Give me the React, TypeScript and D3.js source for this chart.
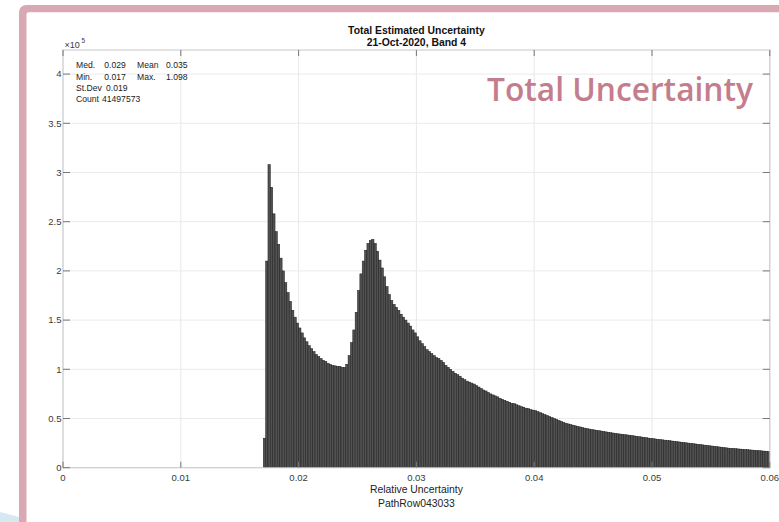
import React from "react";
import * as d3 from "d3";

// ---- data (counts in units of 1e5) ----
const binStart = 0.017;
const binWidth = 0.0002;
const counts: number[] = [
  0.30, 2.10, 3.08, 2.85, 2.58, 2.40, 2.27, 2.13, 2.00, 1.88,
  1.78, 1.69, 1.60, 1.53, 1.47, 1.42, 1.37, 1.32, 1.28, 1.24,
  1.21, 1.18, 1.15, 1.13, 1.11, 1.09, 1.08, 1.06, 1.05, 1.04,
  1.035, 1.03, 1.03, 1.02, 1.02, 1.05, 1.14, 1.27, 1.40, 1.58,
  1.80, 1.97, 2.10, 2.21, 2.28, 2.31, 2.32, 2.28, 2.20, 2.11,
  2.03, 1.94, 1.84, 1.76, 1.70, 1.66, 1.63, 1.60, 1.56, 1.53,
  1.50, 1.47, 1.44, 1.40, 1.37, 1.33, 1.29, 1.26, 1.23, 1.20,
  1.18, 1.16, 1.14, 1.12, 1.11, 1.09, 1.07, 1.04, 1.02, 1.00,
  0.98, 0.96, 0.945, 0.93, 0.91, 0.895, 0.88, 0.87, 0.86, 0.85,
  0.835, 0.82, 0.805, 0.79, 0.78, 0.765, 0.75, 0.74, 0.73, 0.72,
  0.705, 0.695, 0.685, 0.675, 0.665, 0.655, 0.65, 0.64, 0.63, 0.62,
  0.615, 0.605, 0.60, 0.59, 0.585, 0.58, 0.57, 0.56, 0.55, 0.54,
  0.53, 0.52, 0.51, 0.50, 0.49, 0.48, 0.47, 0.46, 0.452, 0.445,
  0.438, 0.432, 0.426, 0.42, 0.414, 0.408, 0.402, 0.397, 0.392, 0.388,
  0.384, 0.38, 0.376, 0.372, 0.368, 0.364, 0.36, 0.356, 0.352, 0.348,
  0.345, 0.342, 0.339, 0.336, 0.333, 0.33, 0.327, 0.323, 0.319, 0.315,
  0.312, 0.308, 0.305, 0.301, 0.298, 0.295, 0.292, 0.289, 0.286, 0.283,
  0.28, 0.277, 0.274, 0.271, 0.268, 0.265, 0.262, 0.259, 0.256, 0.253,
  0.25, 0.247, 0.244, 0.241, 0.238, 0.235, 0.232, 0.229, 0.226, 0.223,
  0.22, 0.217, 0.214, 0.211, 0.208, 0.205, 0.202, 0.199, 0.197, 0.195,
  0.193, 0.191, 0.189, 0.187, 0.185, 0.183, 0.181, 0.179, 0.177, 0.175,
  0.173, 0.171, 0.169, 0.167, 0.165,
];
const xTicks = [0, 0.01, 0.02, 0.03, 0.04, 0.05, 0.06];
const xTickLabels = ["0", "0.01", "0.02", "0.03", "0.04", "0.05", "0.06"];
const yTicks = [0, 0.5, 1, 1.5, 2, 2.5, 3, 3.5, 4];
const yTickLabels = ["0", "0.5", "1", "1.5", "2", "2.5", "3", "3.5", "4"];
const titleLines = ["Total Estimated Uncertainty", "21-Oct-2020, Band 4"];
const xLabelLines = ["Relative Uncertainty", "PathRow043033"];
const statsRows = [
  ["Med.", "0.029", "Mean", "0.035"],
  ["Min.", "0.017", "Max.", "1.098"],
  ["St.Dev", "0.019"],
  ["Count", "41497573"],
];
const watermark = "Total Uncertainty";

const W = 779;
const H = 522;
const L = 63, R = 769.8, T = 50, B = 467.7;
const font = "'Liberation Sans', Arial, Helvetica, sans-serif";

export default function App() {
  const x = d3.scaleLinear().domain([0, 0.06]).range([L, R]);
  const y = d3.scaleLinear().domain([0, 4.245]).range([B, T]);

  return (
    <svg width={W} height={H} style={{ position: "absolute", left: 0, top: 0, background: "#fff" }}>
      <rect x={0} y={0} width={W} height={H} fill="#fff" />
      {/* decorative frame */}
      <path d="M0,512 L19,517 L19,522 L0,522 Z" fill="#d6e9f1" />
      <rect x={19} y={5} width={800} height={560} rx={7} fill="#d9a9b3" />
      <rect x={26.5} y={12.3} width={800} height={560} rx={2} fill="#fff" />

      {/* grid */}
      {xTicks.map((t, i) => (
        <line key={"gx" + i} x1={x(t)} x2={x(t)} y1={T} y2={B} stroke="#e8e8e8" strokeWidth={1} />
      ))}
      {yTicks.map((t, i) => (
        <line key={"gy" + i} x1={L} x2={R} y1={y(t)} y2={y(t)} stroke="#ebebeb" strokeWidth={1} />
      ))}

      {/* histogram bars */}
      <g>
        {counts.map((c, i) => {
          const x0 = x(binStart + i * binWidth);
          const x1 = x(binStart + (i + 1) * binWidth);
          return (
            <rect
              key={i}
              x={x0}
              y={y(c)}
              width={x1 - x0}
              height={B - y(c)}
              fill="#515151"
              stroke="#1c1c1c"
              strokeWidth={0.5}
            />
          );
        })}
      </g>

      {/* axes box */}
      <rect x={L} y={T} width={R - L} height={B - T} fill="none" stroke="#c8c8c8" strokeWidth={1} />
      {xTicks.map((t, i) => (
        <g key={"tx" + i}>
          <line x1={x(t)} x2={x(t)} y1={B} y2={B - 6} stroke="#777" strokeWidth={1} />
          <line x1={x(t)} x2={x(t)} y1={T} y2={T + 6} stroke="#777" strokeWidth={1} />
          <text x={x(t)} y={480.5} fontSize={9.5} fontFamily={font} fill="#3a3a3a" textAnchor="middle">
            {xTickLabels[i]}
          </text>
        </g>
      ))}
      {yTicks.map((t, i) => (
        <g key={"ty" + i}>
          <line x1={L} x2={L + 7} y1={y(t)} y2={y(t)} stroke="#777" strokeWidth={1} />
          <line x1={R} x2={R - 7} y1={y(t)} y2={y(t)} stroke="#777" strokeWidth={1} />
          <text x={61.5} y={y(t) + 3.3} fontSize={9.5} fontFamily={font} fill="#3a3a3a" textAnchor="end">
            {yTickLabels[i]}
          </text>
        </g>
      ))}

      {/* exponent */}
      <text x={64.5} y={47.5} fontSize={9} fontFamily={font} fill="#3a3a3a">
        ×10
      </text>
      <text x={81.5} y={43} fontSize={6.5} fontFamily={font} fill="#3a3a3a">
        5
      </text>

      {/* title */}
      {titleLines.map((s, i) => (
        <text key={"t" + i} x={(L + R) / 2} y={33.5 + i * 12} fontSize={10.4} fontWeight="bold" fontFamily={font} fill="#111" textAnchor="middle">
          {s}
        </text>
      ))}

      {/* x label */}
      {xLabelLines.map((s, i) => (
        <text key={"xl" + i} x={(L + R) / 2} y={492.8 + i * 14} fontSize={10.4} fontFamily={font} fill="#222" textAnchor="middle">
          {s}
        </text>
      ))}

      {/* stats */}
      {statsRows.map((row, r) => {
        const yy = 68.3 + r * 11.3;
        const cols = row.length === 4 ? [76, 104.3, 137, 166] : r === 2 ? [76, 106] : [76, 102];
        return row.map((s, c) => (
          <text key={"s" + r + "_" + c} x={cols[c]} y={yy} fontSize={8.6} fontFamily={font} fill="#222">
            {s}
          </text>
        ));
      })}

      {/* watermark */}
      <text
        x={487}
        y={101}
        fontSize={32}
        fontWeight={600}
        fontFamily="'Open Sans', 'DejaVu Sans', sans-serif"
        fill="#c47d8d"
        textLength={266}
        lengthAdjust="spacingAndGlyphs"
      >
        {watermark}
      </text>
    </svg>
  );
}
